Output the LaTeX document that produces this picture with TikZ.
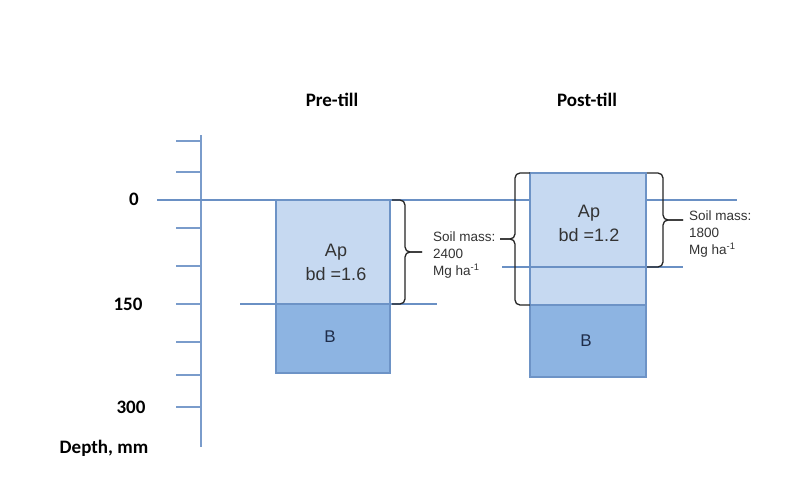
\documentclass[tikz,border=0pt]{standalone}
\usepackage{fontspec}
\setmainfont{Liberation Sans}
\newfontfamily\carlito{Carlito}
\definecolor{axisblue}{HTML}{7A9CCB}
\definecolor{lineblue}{HTML}{6A90C4}
\definecolor{apfill}{HTML}{C6D9F1}
\definecolor{bfill}{HTML}{8DB4E2}
\definecolor{boxedge}{HTML}{6D93C6}
\definecolor{txt}{HTML}{333333}
\definecolor{btxt}{HTML}{1F2D4A}
\begin{document}
\begin{tikzpicture}[x=1pt,y=-1pt,
  axisline/.style={draw=axisblue, line width=1.8pt},
  levelline/.style={draw=lineblue, line width=1.4pt},
  layerbox/.style={draw=boxedge, line width=1.1pt, inner sep=0pt},
  apbox/.style={layerbox, fill=apfill},
  bbox/.style={layerbox, fill=bfill},
  head/.style={font=\carlito\bfseries\fontsize{19}{22}\selectfont, text=black},
  depthlbl/.style={font=\carlito\bfseries\fontsize{19}{22}\selectfont, text=black},
  aptext/.style={font=\fontsize{18}{24}\selectfont, text=txt, align=center},
  btext/.style={font=\fontsize{17}{20}\selectfont, text=btxt},
  masstext/.style={font=\fontsize{13.5}{17}\selectfont, text=txt, align=left, anchor=west, inner sep=0pt},
  bracestyle/.style={draw=black!85, line width=1.3pt, rounded corners=5pt}
]
\useasboundingbox (0,0) rectangle (801,488);
\fill[white] (0,0) rectangle (801,488);

% depth axis
\coordinate (axtop) at (201,135);
\coordinate (axbot) at (201,447);
\draw[axisline] (axtop) -- (axbot);
\foreach \y in {141,172,228,266,304,342,375,407}
  \draw[axisline] (176,\y) -- (201,\y);

% zero level line (behind boxes)
\coordinate (zeroL) at (157,200);
\coordinate (zeroR) at (737,200);
\draw[levelline] (zeroL) -- (zeroR);

% 150 mm line (pre-till)
\coordinate (l150L) at (240,304);
\coordinate (l150R) at (437,304);
\draw[levelline] (l150L) -- (l150R);

% axis labels
\node[depthlbl] (d0) at (134,199) {0};
\node[depthlbl] (d150) at (128,304) {150};
\node[depthlbl] (d300) at (131,407) {300};
\node[depthlbl] (dlab) at (104,448) {Depth, mm};

% headers
\node[head] (pre) at (332,100) {Pre-till};
\node[head] (post) at (587,100) {Post-till};

% pre-till column
\node[apbox, minimum width=114pt, minimum height=104pt] (preAp) at (333,252) {};
\node[bbox, minimum width=114pt, minimum height=69pt] (preB) at (333,338.5) {};
\node[aptext] (preApT) at (336,262) {Ap\\bd =1.6};
\node[btext] (preBT) at (330,337) {B};

% post-till column
\node[apbox, minimum width=116pt, minimum height=132pt] (postAp) at (588,239) {};
\node[bbox, minimum width=116pt, minimum height=72pt] (postB) at (588,341) {};
\node[aptext] (postApT) at (589,223) {Ap\\bd =1.2};
\node[btext] (postBT) at (586,341) {B};

% post-till mass line (in front)
\coordinate (lpL) at (502,267);
\coordinate (lpR) at (683,267);
\draw[levelline] (lpL) -- (lpR);

% soil mass texts
\node[masstext] (m1) at (433,255) {Soil mass:\\2400\\Mg ha\textsuperscript{-1}};
\node[masstext] (m2) at (689,234.5) {Soil mass:\\1800\\Mg ha\textsuperscript{-1}};

% braces
\draw[bracestyle] (392,200) -| (405,252) -- (422,252);
\draw[bracestyle] (392,304) -| (405,252) -- (422,252);

\draw[bracestyle] (530,173) -| (515,239) -- (500,239);
\draw[bracestyle] (530,305) -| (515,239) -- (500,239);

\draw[bracestyle] (647,173) -| (663,220) -- (683,220);
\draw[bracestyle] (647,267) -| (663,220) -- (683,220);
\end{tikzpicture}
\end{document}
